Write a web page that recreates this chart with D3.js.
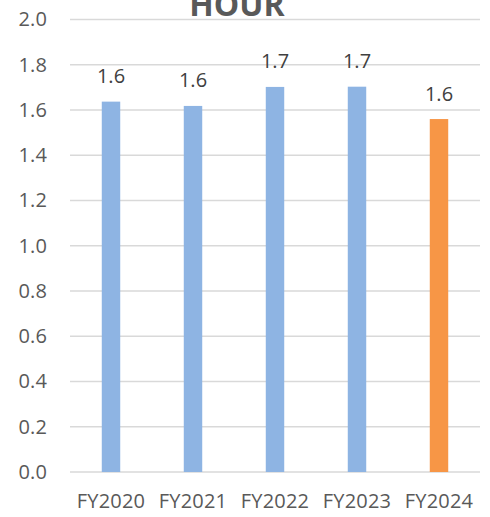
<!DOCTYPE html>
<html>
<head>
<meta charset="utf-8">
<script src="https://cdn.jsdelivr.net/npm/d3@7"></script>
<style>
  html, body { margin: 0; padding: 0; background: #fff; }
  svg { display: block; }
  text { font-family: "Open Sans", sans-serif; }
</style>
</head>
<body>
<svg id="chart" width="490" height="517"></svg>
<script>
const categories = ["FY2020", "FY2021", "FY2022", "FY2023", "FY2024"];
const values = [1.637, 1.618, 1.702, 1.703, 1.560];
const valueLabels = ["1.6", "1.6", "1.7", "1.7", "1.6"];
const barColors = ["#8EB4E3", "#8EB4E3", "#8EB4E3", "#8EB4E3", "#F79646"];
const yTicks = [0, 0.2, 0.4, 0.6, 0.8, 1.0, 1.2, 1.4, 1.6, 1.8, 2.0];
const titleText = "HOUR";

const svg = d3.select("#chart");
const plotLeft = 70, plotRight = 480, plotTop = 19.5, plotBottom = 472;

const x = d3.scaleBand().domain(categories).range([plotLeft, plotRight]).paddingInner(0.775).paddingOuter(0.3875);
const y = d3.scaleLinear().domain([0, 2]).range([plotBottom, plotTop]);

// gridlines
svg.append("g")
  .selectAll("line")
  .data(yTicks)
  .join("line")
  .attr("x1", plotLeft).attr("x2", plotRight)
  .attr("y1", d => y(d)).attr("y2", d => y(d))
  .attr("stroke", "#D9D9D9")
  .attr("stroke-width", 1.5);

// y axis labels
const yAxis = d3.axisLeft(y).tickValues(yTicks).tickFormat(d3.format(".1f")).tickSize(0).tickPadding(23);
const yg = svg.append("g").attr("transform", `translate(${plotLeft},0)`).call(yAxis);
yg.select(".domain").remove();
yg.selectAll("text")
  .attr("fill", "#595959")
  .style("font-size", "20px")
  .style("letter-spacing", "0.1px");

// x axis labels
const xAxis = d3.axisBottom(x).tickSize(0).tickPadding(22);
const xg = svg.append("g").attr("transform", `translate(0,${plotBottom})`).call(xAxis);
xg.select(".domain").remove();
xg.selectAll("text")
  .attr("fill", "#595959")
  .style("font-size", "20px")
  .style("letter-spacing", "0.2px");

// bars
svg.append("g")
  .selectAll("rect")
  .data(values)
  .join("rect")
  .attr("x", (d, i) => x(categories[i]))
  .attr("width", x.bandwidth())
  .attr("y", d => y(d))
  .attr("height", d => y(0) - y(d))
  .attr("fill", (d, i) => barColors[i]);

// value labels
svg.append("g")
  .selectAll("text")
  .data(values)
  .join("text")
  .attr("x", (d, i) => x(categories[i]) + x.bandwidth() / 2)
  .attr("y", d => y(d) - 18.5)
  .attr("text-anchor", "middle")
  .attr("fill", "#404040")
  .style("font-size", "20px")
  .text((d, i) => valueLabels[i]);

// title (partially clipped at the top, as in the reference)
svg.append("text")
  .attr("x", 237)
  .attr("y", 16)
  .attr("text-anchor", "middle")
  .attr("fill", "#595959")
  .style("font-size", "32px")
  .style("font-weight", "bold")
  .text(titleText);
</script>
</body>
</html>
